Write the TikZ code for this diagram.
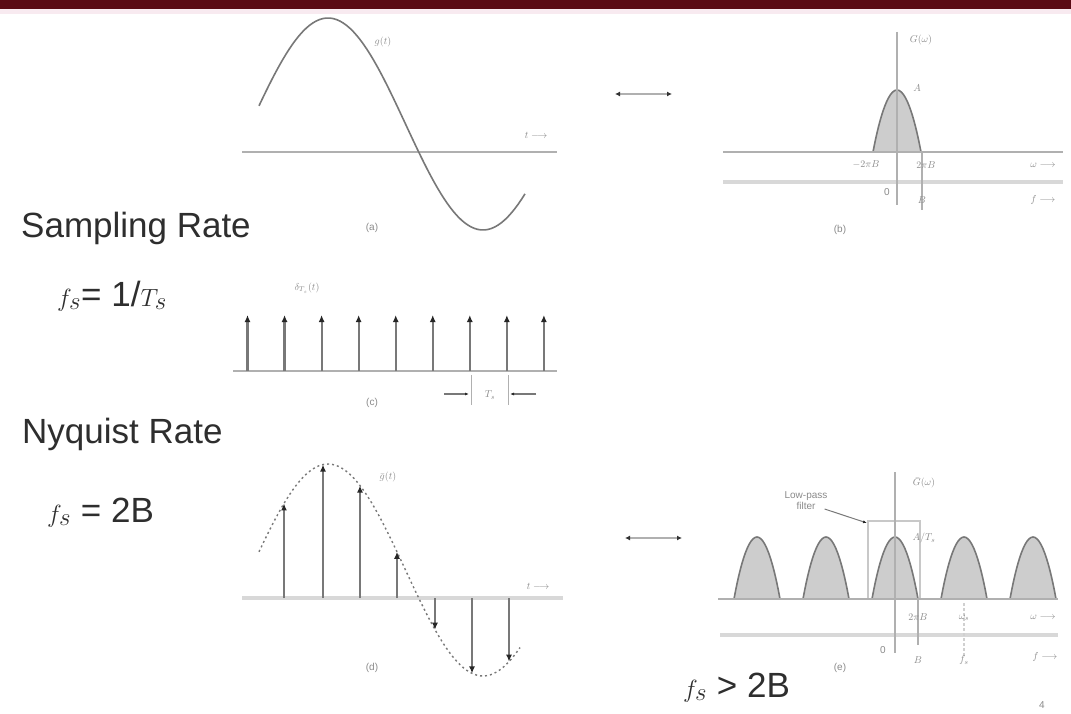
\documentclass[tikz,border=0pt]{standalone}
\usepackage{fontspec}
\setmainfont{Liberation Sans}
\usetikzlibrary{arrows.meta}
\definecolor{maroon}{HTML}{5A0A14}
\definecolor{blush}{HTML}{F8EAF0}
\definecolor{curvegray}{HTML}{787878}
\definecolor{axisgray}{HTML}{B0B0B0}
\definecolor{lightaxis}{HTML}{D8D8D8}
\definecolor{humpfill}{HTML}{CDCDCD}
\definecolor{labelgray}{HTML}{8A8A8A}
% signal shape of g(t), in pixel rows
\pgfmathdeclarefunction{wave}{1}{\pgfmathparse{124-106*cos((#1-328)*1.16129)}}

\begin{document}
\begin{tikzpicture}[x=1pt,y=-1pt,
  bigtext/.style={font=\fontsize{35}{40}\selectfont,text=black!82,inner sep=0pt,anchor=base west},
  small/.style={font=\fontsize{10}{11}\selectfont,text=labelgray,inner sep=1pt},
  axisline/.style={draw=axisgray,line width=2.4pt},
  faxis/.style={draw=lightaxis,line width=4pt},
  tick/.style={draw=axisgray,line width=1.3pt},
  wave/.style={draw=curvegray,line width=1.6pt},
  spike/.style={draw=curvegray,line width=2.2pt,-{Latex[length=7pt,width=6pt,color=black!85]}},
  hump/.style={draw=curvegray,fill=humpfill,line width=1.6pt},
  dbl/.style={draw=axisgray,line width=1.6pt,{Latex[length=5pt,width=5pt,color=black!80]}-{Latex[length=5pt,width=5pt,color=black!80]}}
]
\useasboundingbox (0,0) rectangle (1071,714);
\fill[white] (0,0) rectangle (1071,714);
% title bar
\fill[maroon] (0,0) rectangle (1071,9);
\fill[blush] (0,9) rectangle (1071,14);

% left-hand text
\node[bigtext] (samp) at (21,237) {Sampling Rate};
\node[bigtext] (fsdef) at (57,306) {$f_s$= 1/$T_s$};
\node[bigtext] (nyq) at (22,443) {Nyquist Rate};
\node[bigtext] (fsnyq) at (47,522) {$f_s$ = 2B};
\node[bigtext] (fsgt) at (683,697) {$f_s$ > 2B};

% (a) signal
\draw[axisline] (242,152) -- (557,152);
\draw[wave] plot[domain=259:525,samples=80] (\x,{wave(\x)});
\node[small] (ga) at (383,42) {$g(t)$};
\node[small] (ta) at (536,135) {$t \longrightarrow$};
\node[small] (capa) at (372,228) {(a)};

% (b) spectrum
\draw[hump] (873,152) parabola bend (897,90) (921,152);
\draw[axisline] (723,152) -- (1063,152);
\draw[faxis] (723,182) -- (1063,182);
\draw[axisline,line width=2pt] (897,32) -- (897,205);
\draw[tick] (922,152) -- (922,210);
\node[small] (Gb) at (921,40) {$G(\omega)$};
\node[small] (Ab) at (917,88) {$A$};
\node[small] (mb) at (866,165) {$-2\pi B$};
\node[small] (pb) at (926,165) {$2\pi B$};
\node[small] (wb) at (1043,165) {$\omega \longrightarrow$};
\node[small] (zb) at (887,192) {0};
\node[small] (Bb) at (922,200) {$B$};
\node[small] (fb) at (1043,200) {$f \longrightarrow$};
\node[small] (capb) at (840,230) {(b)};

% transform pair arrows
\coordinate (ar1l) at (615,94);
\coordinate (ar1r) at (672,94);
\draw[dbl] (ar1l) -- (ar1r);
\coordinate (ar2l) at (625,538);
\coordinate (ar2r) at (682,538);
\draw[dbl] (ar2l) -- (ar2r);

% (c) impulse train
\draw[axisline] (233,371) -- (557,371);
\foreach \k in {0,...,8}
  \draw[spike] ({247.5+37.05*\k},371) -- ({247.5+37.05*\k},315);
\node[small] (dT) at (307,288) {$\delta_{T_s}(t)$};
\draw[tick,line width=1pt] (471,375) -- (471,405);
\draw[tick,line width=1pt] (508,375) -- (508,405);
\node[small] (Ts) at (490,395) {$T_s$};
\coordinate (tsl) at (469,394);
\coordinate (tsr) at (510,394);
\draw[draw=curvegray,line width=1.3pt,-{Latex[length=4pt,color=black!85]}] (444,394) -- (tsl);
\draw[draw=curvegray,line width=1.3pt,-{Latex[length=4pt,color=black!85]}] (536,394) -- (tsr);
\node[small] (capc) at (372,403) {(c)};

% (d) sampled signal
\draw[faxis] (242,598) -- (563,598);
\draw[wave,line width=1.4pt,dash pattern=on 2pt off 3pt] plot[domain=259:520,samples=80] (\x,{wave(\x)+446});
\foreach \xs in {284,323,360,397,435,472,509}{
  \pgfmathsetmacro{\ys}{wave(\xs)+446}
  \draw[spike] (\xs,598) -- (\xs,\ys);
}
\node[small] (gd) at (388,477) {$\bar g(t)$};
\node[small] (td) at (538,586) {$t \longrightarrow$};
\node[small] (capd) at (372,668) {(d)};

% (e) spectrum of the samples
\foreach \c in {757,826,895,964,1033}
  \draw[hump] ({\c-23},599) parabola bend (\c,537) ({\c+23},599);
\draw[axisgray!70,line width=1.2pt] (868,599) -- (868,521) -- (920,521) -- (920,599);
\draw[axisline] (718,599) -- (1058,599);
\draw[faxis] (720,635) -- (1058,635);
\draw[axisline,line width=2pt] (895,472) -- (895,653);
\draw[tick] (918,599) -- (918,645);
\draw[tick,axisgray!60,dash pattern=on 3pt off 2pt] (964,603) -- (964,657);
\node[small,align=center] (lpf) at (806,501) {Low-pass\\filter};
\coordinate (boxcorner) at (867,523);
\draw[draw=curvegray,line width=1pt,-{Latex[length=4pt,color=black!85]}] (lpf.east) ++(-4,8) -- (boxcorner);
\node[small] (Ge) at (924,483) {$\bar G(\omega)$};
\node[small] (Ae) at (924,538) {$A/T_s$};
\node[small] (we1) at (918,617) {$2\pi B$};
\node[small] (ws) at (964,618) {$\omega_s$};
\node[small] (we) at (1043,617) {$\omega \longrightarrow$};
\node[small] (ze) at (883,650) {0};
\node[small] (Be) at (918,660) {$B$};
\node[small] (fse) at (964,660) {$f_s$};
\node[small] (fe) at (1045,657) {$f \longrightarrow$};
\node[small] (cape) at (840,668) {(e)};
\node[small] (pg) at (1042,705) {4};
\end{tikzpicture}
\end{document}
